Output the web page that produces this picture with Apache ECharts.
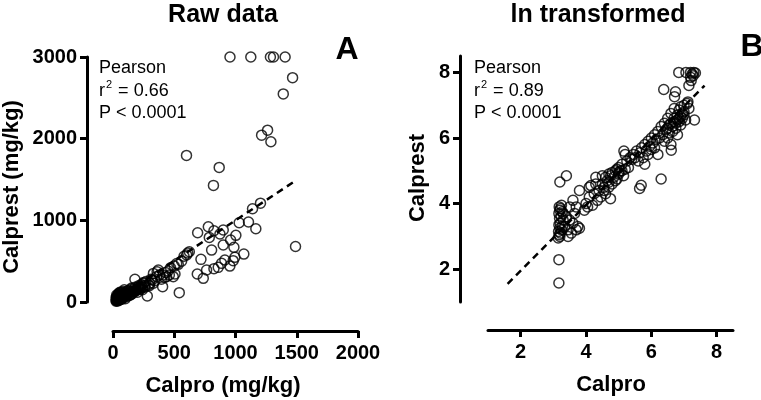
<!DOCTYPE html>
<html>
<head>
<meta charset="utf-8">
<script src="https://cdn.jsdelivr.net/npm/echarts@6/dist/echarts.min.js"></script>
<style>html,body{margin:0;padding:0;background:#fff}#c{width:761px;height:400px}</style>
</head>
<body>
<div id="c"></div>
<script>
// ---- Panel A: raw data (mg/kg) ----
var calproA = [955,1125,1285,1310,1405,1466,1390,1262,1213,1289,600,867,820,1490,
  1204,1139,1030,1106,1166,691,778,824,900,786,873,1003,960,900,805,987,1068,995,981,913,886,859,824,954,
  718,764,688,737,623,601,533,506,541,438,492,370,356,405,280,179,297,
  330,360,380,410,420,450,470,500,520,560,580,610,460,430,395,340,320,300,250,230,260,210,240,200,180,
  25,28,30,30,32,35,35,38,40,40,42,45,45,48,50,50,52,55,58,60,60,62,65,68,70,72,75,78,80,82,85,88,90,95,
  100,100,105,110,115,120,125,130,135,140,145,150,155,160,170,175,180,190,200,210,220,230,240,250,260,270,290,310,330,
  25,27,30,33,36,40,44,48,52,56,62,66,70,76,84,92,98,108,118,128,140,152,165,185,205,225];
var calprestA = [3000,3000,3000,3000,3000,2747,2548,2104,2043,1962,1795,1648,1428,680,
  1210,1142,971,979,897,848,922,873,881,791,832,816,759,698,636,669,587,547,506,514,473,424,408,440,
  522,392,343,290,616,575,461,343,114,310,310,392,310,188,73,278,200,
  350,370,330,330,300,380,420,440,470,500,560,600,330,360,280,260,270,230,230,200,180,160,150,120,140,
  10,30,15,50,25,20,60,40,12,80,35,28,95,45,22,60,110,40,70,30,90,55,45,120,65,35,80,100,50,130,70,60,90,75,
  40,115,85,65,100,95,140,80,110,125,90,160,120,105,150,130,180,140,160,200,175,215,185,240,205,250,210,280,230,
  55,18,85,35,65,48,100,70,30,120,50,88,75,60,105,150,70,95,135,110,85,170,125,145,180,160];
var fitA_x = [30, 1500];
var fitA_y = [40, 1495];

// ---- Panel B: ln transformed ----
var calproB = [3.17,3.17,3.15,3.2,3.18,3.22,3.16,3.25,3.2,3.28,3.17,3.21,3.3,3.19,3.24,3.17,3.27,3.2,3.22,3.18,3.25,3.2,3.4,
  3.35,3.4,3.45,3.5,3.55,3.6,3.65,3.7,3.75,3.8,3.7,3.8,3.6,3.5,3.3,3.45,
  3.95,4.0,4.05,4.1,4.1,4.15,4.2,4.25,4.3,4.3,4.35,4.4,4.45,4.5,4.5,4.55,4.6,4.65,4.7,4.7,4.75,4.8,4.85,4.9,4.95,5.0,5.0,5.05,5.1,5.15,
  5.16,5.2,5.2,5.25,5.3,5.35,5.4,5.45,5.5,5.55,5.6,5.64,5.69,5.65,5.7,5.75,5.8,5.8,5.85,5.9,5.9,5.95,6.0,6.0,6.05,6.1,6.1,6.15,6.2,6.2,6.25,
  6.3,6.3,6.35,6.38,6.4,6.4,6.45,6.5,6.5,6.55,6.6,6.6,6.61,6.65,6.7,6.7,6.71,6.74,6.75,6.8,6.8,6.85,6.85,6.9,6.9,6.95,7.0,7.0,7.05,7.1,7.12,
  7.15,7.15,7.2,7.25,7.3,7.32,6.84,7.06,7.2,7.28,7.35,7.22,
  4.6,4.7,4.8,4.9,5.0,4.55,4.75,4.95,5.1,6.6,6.7,6.8,6.9,6.95,7.0,6.65,6.75,6.85,6.5,6.55];
var calprestB = [1.58,2.29,2.95,3.0,3.05,3.1,3.15,3.2,3.25,3.3,3.35,3.4,3.5,3.55,3.6,3.7,3.75,3.8,3.85,3.9,3.95,4.66,4.85,
  3.3,3.6,3.2,3.5,3.1,3.4,3.7,3.2,3.3,3.25,3.9,4.4,4.1,3.9,3.7,3.0,
  3.8,4.0,3.9,4.2,4.5,4.55,3.95,4.3,4.6,4.8,4.1,4.4,4.2,4.6,4.85,4.4,4.3,4.7,4.5,4.9,4.15,4.6,4.8,5.0,4.75,4.9,5.1,5.0,5.2,4.85,
  5.6,5.5,5.05,5.3,5.1,5.4,5.35,5.5,5.4,5.6,5.3,4.46,4.56,5.55,5.7,5.4,5.8,5.2,5.6,5.9,5.5,5.75,6.0,5.65,5.85,5.7,6.1,5.95,6.2,5.5,6.0,
  4.75,6.35,6.1,7.48,6.45,5.9,6.25,6.6,6.0,6.4,6.75,5.8,5.63,6.2,6.5,6.9,7.26,7.41,6.3,6.7,6.1,6.5,6.85,6.4,6.95,6.6,6.8,7.0,6.55,7.05,7.1,
  7.6,6.9,7.85,7.95,8.0,6.55,8.0,8.0,8.0,7.9,7.98,7.75,
  4.8,4.65,4.95,4.7,4.95,4.5,4.85,5.05,5.0,6.45,6.6,6.55,6.65,6.75,6.7,6.35,6.45,6.6,6.3,6.15];
var fitB_x = [1.6, 7.63];
var fitB_y = [1.55, 7.6];

var ticksB = [2, 4, 6, 8];

function pairs(xs, ys) { return xs.map(function (v, i) { return [v, ys[i]]; }); }

var FONT = '"Liberation Sans", Arial, Helvetica, sans-serif';
var axisLineStyle = { onZero: false, lineStyle: { color: '#000', width: 3 } };
var tickStyle = { show: true, length: 7, lineStyle: { color: '#000', width: 3 } };
var labelStyle = { color: '#000', fontFamily: FONT, fontWeight: 'bold', fontSize: 20,
  formatter: function (v) { return String(v); } };
var marker = {
  type: 'scatter', symbol: 'circle', symbolSize: 10,
  itemStyle: { color: 'rgba(255,255,255,0)', borderColor: '#000', borderWidth: 1.5 },
  emphasis: { disabled: true }, silent: true
};
function scat(xi, yi, data) {
  return Object.assign({}, marker, { xAxisIndex: xi, yAxisIndex: yi, data: data });
}
function fit(xi, yi, data) {
  return {
    type: 'line', xAxisIndex: xi, yAxisIndex: yi, data: data, showSymbol: false, silent: true,
    lineStyle: { color: '#000', width: 2.5, type: [7, 5] }, z: 1
  };
}
function txt(x, y, text, size, weight, rot) {
  return {
    type: 'text', x: x, y: y, rotation: rot || 0,
    style: { text: text, fill: '#000', font: (weight || 'bold') + ' ' + size + 'px ' + FONT, align: 'center', verticalAlign: 'middle' }
  };
}
function pearson(x, r2) {
  return {
    type: 'text', x: x, y: 57,
    style: {
      text: 'Pearson\n{n|r}{s|2}{n| = ' + r2 + '}\nP < 0.0001',
      fill: '#000', font: 'normal 18px ' + FONT, lineHeight: 22.5, align: 'left', verticalAlign: 'top',
      rich: {
        n: { fontSize: 18, fontFamily: FONT, lineHeight: 22.5 },
        s: { fontSize: 11, fontFamily: FONT, verticalAlign: 'top', lineHeight: 22.5, padding: [0, 1, 0, 1] }
      }
    }
  };
}

var chart = echarts.init(document.getElementById('c'), null, { renderer: 'canvas' });
chart.setOption({
  animation: false,
  backgroundColor: '#fff',
  grid: [
    { left: 113, top: 57, width: 245, height: 245 },
    { left: 488, top: 56, width: 245, height: 246 }
  ],
  xAxis: [
    { gridIndex: 0, type: 'value', min: 0, max: 2000, interval: 500, offset: 29,
      axisLine: axisLineStyle, axisTick: tickStyle, splitLine: { show: false },
      axisLabel: Object.assign({ margin: 12 }, labelStyle) },
    { gridIndex: 1, type: 'value', min: 1, max: 8.5, offset: 28,
      axisLine: axisLineStyle, axisTick: Object.assign({ customValues: ticksB }, tickStyle), splitLine: { show: false },
      axisLabel: Object.assign({ margin: 12, customValues: ticksB }, labelStyle) }
  ],
  yAxis: [
    { gridIndex: 0, type: 'value', min: 0, max: 3000, interval: 1000, offset: 26,
      axisLine: axisLineStyle, axisTick: tickStyle, splitLine: { show: false },
      axisLabel: Object.assign({ margin: 10 }, labelStyle) },
    { gridIndex: 1, type: 'value', min: 1, max: 8.5, offset: 28,
      axisLine: axisLineStyle, axisTick: Object.assign({ customValues: ticksB }, tickStyle), splitLine: { show: false },
      axisLabel: Object.assign({ margin: 10, customValues: ticksB }, labelStyle) }
  ],
  series: [
    fit(0, 0, pairs(fitA_x, fitA_y)),
    scat(0, 0, pairs(calproA, calprestA)),
    fit(1, 1, pairs(fitB_x, fitB_y)),
    scat(1, 1, pairs(calproB, calprestB))
  ],
  graphic: [
    txt(223, 15, 'Raw data', 25),
    txt(598, 15, 'ln transformed', 25),
    txt(347, 50, 'A', 32),
    txt(752, 47, 'B', 32),
    txt(223, 386, 'Calpro (mg/kg)', 22),
    txt(611, 385, 'Calpro', 22),
    txt(12, 187, 'Calprest (mg/kg)', 22, 'bold', Math.PI / 2),
    txt(418, 178, 'Calprest', 22, 'bold', Math.PI / 2),
    pearson(99, '0.66'),
    pearson(474, '0.89')
  ]
});
</script>
</body>
</html>
